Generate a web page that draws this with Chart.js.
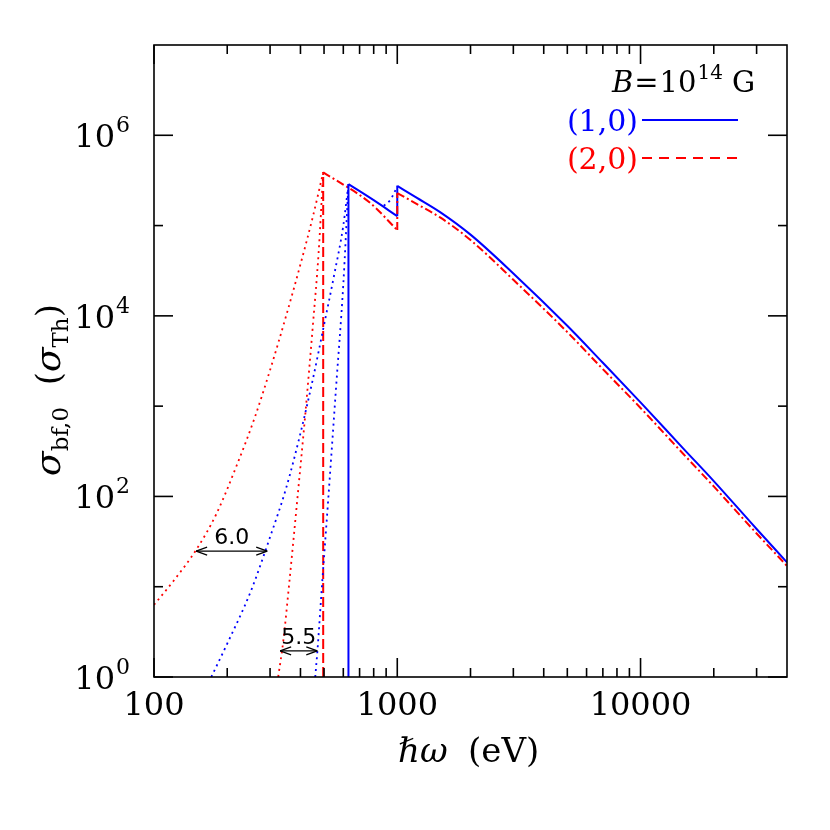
<!DOCTYPE html>
<html lang="en">
<head>
<meta charset="UTF-8" />
<title>sigma bf,0</title>
<script src="https://cdn.jsdelivr.net/npm/chart.js@4.4.0/dist/chart.umd.min.js"></script>
<style>
body { margin: 0; background: #fff; }
</style>
</head>
<body>
<canvas id="chart" width="830" height="830"></canvas>
<script>
// photon energy (eV) / cross-section (sigma_Th)
const blueSolidE = [630, 630, 800, 1000, 1000, 1200, 1500, 2000, 3000, 5000, 7000, 10000, 15000, 20000, 30000, 40000];
const blueSolidS = [1, 288000, 191000, 127000, 275000, 204000, 141000, 79400, 29500, 7760, 3020, 1100, 339, 148, 43.6, 18.6];

const redEdgeE = [496, 496];
const redEdgeS = [1, 389000];
const redMainE = [496, 774, 1000, 1000, 1200, 1500, 2000, 3000, 5000, 7000, 10000, 15000, 20000, 30000, 40000];
const redMainS = [389000, 178000, 89100, 229000, 174000, 123000, 69200, 25100, 6610, 2570, 955, 295, 129, 38.9, 17.0];

// dotted extensions below threshold
const redDot1E = [100, 120, 150, 180, 220, 260, 300, 350, 400, 450, 496];
const redDot1S = [6.3, 11.5, 26.3, 63.1, 229, 759, 2510, 10200, 37200, 126000, 389000];
const blueDot1E = [172, 200, 250, 300, 350, 400, 450, 500, 550, 600, 630];
const blueDot1S = [1, 2.34, 8.9, 35.5, 126, 501, 2000, 7940, 28200, 100000, 288000];
const redDot2E = [324, 340, 360, 388, 420, 450, 475, 496];
const redDot2S = [1, 2.51, 11.2, 91, 891, 7940, 50100, 389000];
const blueDot2E = [460, 470, 490, 520, 560, 600, 630];
const blueDot2S = [1, 2.0, 10, 91, 1580, 22400, 288000];
const blueDot3E = [880, 935, 970, 1000];
const blueDot3S = [166000, 191000, 229000, 275000];

// ratio arrows
const arrowFrom = [149, 330];
const arrowTo = [292, 469];
const arrowS = [24.8, 1.95];
const arrowLabels = ['6.0', '5.5'];

// axis ticks
const xMajor = [100, 1000, 10000];
const xMinor = [200, 300, 400, 500, 600, 700, 800, 900, 2000, 3000, 4000, 5000, 6000, 7000, 8000, 9000, 20000, 30000];
const yMajor = [1, 1e2, 1e4, 1e6];
const yMinor = [10, 1e3, 1e5];
const xLabels = ['100', '1000', '10000'];
const yExp = ['0', '2', '4', '6'];

const BLUE = '#0000ff';
const RED = '#ff0000';
const SERIF = '"DejaVu Serif", serif';

// one curve -> several datasets: jumps (same energy twice) stay straight,
// the runs between them are drawn smooth
function curve(E, S, color, dash, width) {
  const out = [];
  let run = [];
  const style = {borderColor: color, borderWidth: width, borderDash: dash, pointRadius: 0, fill: false};
  function flush() {
    if (run.length > 1) out.push(Object.assign({data: run, cubicInterpolationMode: 'monotone'}, style));
  }
  for (let i = 0; i < E.length; i++) {
    if (i > 0 && E[i] === E[i - 1]) {
      flush();
      out.push(Object.assign({data: [{x: E[i - 1], y: S[i - 1]}, {x: E[i], y: S[i]}]}, style));
      run = [];
    }
    run.push({x: E[i], y: S[i]});
  }
  flush();
  return out;
}

const frame = {
  id: 'frame',
  afterDatasetsDraw(chart) {
    const ctx = chart.ctx;
    const a = chart.chartArea;
    const x = chart.scales.x, y = chart.scales.y;
    ctx.save();
    ctx.strokeStyle = '#000';
    ctx.lineWidth = 1.6;
    ctx.strokeRect(a.left, a.top, a.right - a.left, a.bottom - a.top);

    function seg(x1, y1, x2, y2) {
      ctx.beginPath(); ctx.moveTo(x1, y1); ctx.lineTo(x2, y2); ctx.stroke();
    }
    xMajor.forEach(v => { const p = x.getPixelForValue(v); seg(p, a.bottom, p, a.bottom - 19); seg(p, a.top, p, a.top + 19); });
    xMinor.forEach(v => { const p = x.getPixelForValue(v); seg(p, a.bottom, p, a.bottom - 9); seg(p, a.top, p, a.top + 9); });
    yMajor.forEach(v => { const p = y.getPixelForValue(v); seg(a.left, p, a.left + 19, p); seg(a.right, p, a.right - 19, p); });
    yMinor.forEach(v => { const p = y.getPixelForValue(v); seg(a.left, p, a.left + 9, p); seg(a.right, p, a.right - 9, p); });

    // tick labels
    ctx.fillStyle = '#000';
    ctx.font = '32px ' + SERIF;
    ctx.textAlign = 'center';
    ctx.textBaseline = 'alphabetic';
    xMajor.forEach((v, i) => ctx.fillText(xLabels[i], x.getPixelForValue(v), a.bottom + 38));
    yMajor.forEach((v, i) => {
      const p = y.getPixelForValue(v);
      ctx.font = '32px ' + SERIF;
      ctx.textAlign = 'right';
      ctx.fillText('10', a.left - 39, p + 12);
      ctx.font = '22px ' + SERIF;
      ctx.textAlign = 'left';
      ctx.fillText(yExp[i], a.left - 38, p - 3);
    });

    // arrows with labels
    ctx.lineWidth = 1.2;
    arrowFrom.forEach((e, i) => {
      const x1 = x.getPixelForValue(e), x2 = x.getPixelForValue(arrowTo[i]);
      const py = y.getPixelForValue(arrowS[i]);
      seg(x1, py, x2, py);
      seg(x1, py, x1 + 11, py - 4); seg(x1, py, x1 + 11, py + 4);
      seg(x2, py, x2 - 11, py - 4); seg(x2, py, x2 - 11, py + 4);
      ctx.font = '22px "DejaVu Sans", sans-serif';
      ctx.textAlign = 'center';
      ctx.fillText(arrowLabels[i], (x1 + x2) / 2, py - 7);
    });

    // legend block
    ctx.textAlign = 'left';
    let lx = 612;
    ctx.font = 'italic 29px ' + SERIF;
    ctx.fillText('B', lx, 92);
    lx += ctx.measureText('B').width + 1;
    ctx.font = '29px ' + SERIF;
    ctx.fillText('=', lx, 92);
    lx += ctx.measureText('=').width + 1;
    ctx.fillText('10', lx, 92);
    lx += ctx.measureText('10').width + 1;
    ctx.font = '20px ' + SERIF;
    ctx.fillText('14', lx, 79);
    lx += ctx.measureText('14').width + 9;
    ctx.font = '29px ' + SERIF;
    ctx.fillText('G', lx, 92);

    ctx.textAlign = 'right';
    ctx.font = '30px ' + SERIF;
    ctx.fillStyle = BLUE;
    ctx.fillText('(1,0)', 638, 131);
    ctx.fillStyle = RED;
    ctx.fillText('(2,0)', 638, 169);
    ctx.lineWidth = 2;
    ctx.strokeStyle = BLUE;
    seg(642, 120, 738, 120);
    ctx.strokeStyle = RED;
    ctx.setLineDash([10, 7]);
    seg(642, 158, 738, 158);
    ctx.setLineDash([]);

    // axis titles
    ctx.fillStyle = '#000';
    ctx.textAlign = 'left';
    ctx.font = 'italic 34px ' + SERIF;
    ctx.fillText('\u210F\u03C9', 398, 762);
    ctx.font = '34px ' + SERIF;
    ctx.fillText('(eV)', 468, 762);

    ctx.translate(60, 390);
    ctx.rotate(-Math.PI / 2);
    const parts = [
      ['italic 36px ', '\u03C3', 0], ['23px ', 'bf,0', 8], ['34px ', '  (', 0],
      ['italic 36px ', '\u03C3', 0], ['23px ', 'Th', 8], ['34px ', ')', 0]
    ];
    let total = 0;
    parts.forEach(p => { ctx.font = p[0] + SERIF; total += ctx.measureText(p[1]).width; });
    let px = -total / 2;
    parts.forEach(p => {
      ctx.font = p[0] + SERIF;
      ctx.fillText(p[1], px, p[2]);
      px += ctx.measureText(p[1]).width;
    });
    ctx.restore();
  }
};

const dotted = [2, 4];
new Chart(document.getElementById('chart'), {
  type: 'line',
  data: {
    datasets: [].concat(
      curve(redDot1E, redDot1S, RED, dotted, 1.8),
      curve(redDot2E, redDot2S, RED, dotted, 1.8),
      curve(blueDot1E, blueDot1S, BLUE, dotted, 1.8),
      curve(blueDot2E, blueDot2S, BLUE, dotted, 1.8),
      curve(blueDot3E, blueDot3S, BLUE, dotted, 1.8),
      curve(redEdgeE, redEdgeS, RED, [10, 4], 2),
      curve(redMainE, redMainS, RED, [8, 3, 2, 3], 2),
      curve(blueSolidE, blueSolidS, BLUE, [], 2)
    )
  },
  options: {
    responsive: false,
    animation: false,
    layout: {padding: {left: 154, right: 43, top: 45, bottom: 153}},
    plugins: {legend: {display: false}, tooltip: {enabled: false}},
    scales: {
      x: {type: 'logarithmic', min: 100, max: 40000, display: false},
      y: {type: 'logarithmic', min: 1, max: 1e7, display: false}
    }
  },
  plugins: [frame]
});
</script>
</body>
</html>
